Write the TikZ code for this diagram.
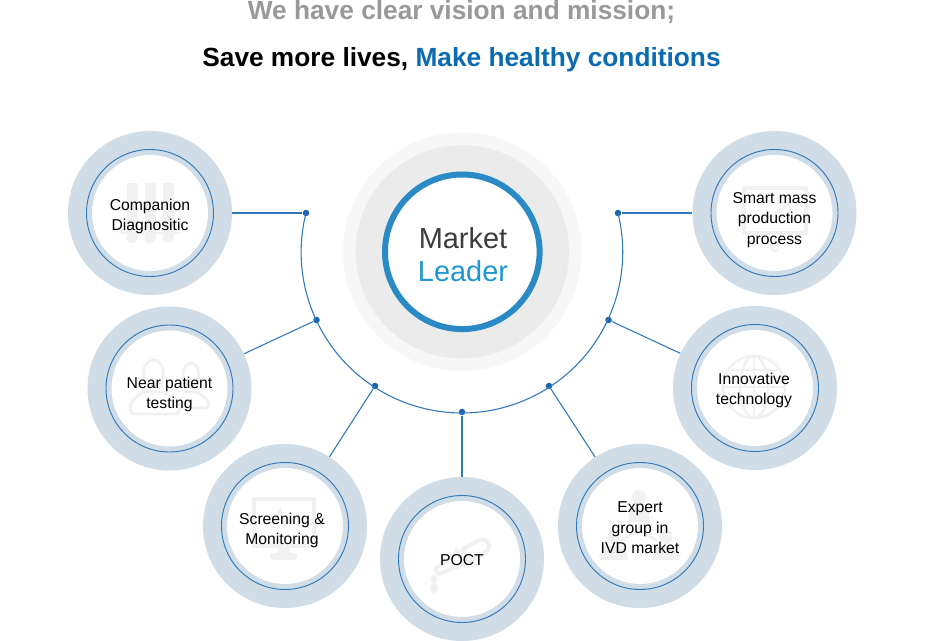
\documentclass[tikz,border=0pt]{standalone}
\usepackage{fontspec}
\setmainfont{Liberation Sans}
\definecolor{ringc}{HTML}{D0DCE6}
\definecolor{linec}{HTML}{2F78BC}
\definecolor{dotc}{HTML}{1A64AC}
\definecolor{ghost}{HTML}{F1F1F1}
\definecolor{titleg}{HTML}{999999}
\definecolor{titleb}{HTML}{0A6BB0}
\definecolor{leaderb}{HTML}{1F96D6}
\definecolor{centerring}{HTML}{2A8AC6}
\definecolor{marketc}{HTML}{3C3C3C}
\definecolor{halo}{HTML}{F7F7F7}
\definecolor{halomid}{HTML}{EBEBEB}
\tikzset{
  ringbox/.style={circle,minimum size=164*0.75pt,inner sep=0pt,fill=ringc},
  inring/.style={circle,minimum size=127*0.75pt,inner sep=0pt,draw=linec,line width=0.7pt},
  inwhite/.style={circle,minimum size=116*0.75pt,inner sep=0pt,fill=white},
  lab/.style={align=center,font=\fontsize{11.8pt}{15.3pt}\selectfont,text=black},
  dotn/.style={circle,minimum size=6.5*0.75pt,inner sep=0pt,fill=dotc},
  conn/.style={draw=linec,line width=0.8pt},
  gl/.style={draw=ghost,line width=2.2pt,line join=round,line cap=round},
  ttl/.style={anchor=base,font=\fontsize{19.7pt}{22pt}\selectfont\bfseries},
}
\begin{document}
\begin{tikzpicture}[x=0.75pt,y=-0.75pt]
\useasboundingbox (0,0) rectangle (925,641);
\fill[white] (0,0) rectangle (925,641);
% titles
\node[ttl,text=titleg] (t1) at (461.5,20) {We have clear vision and mission;};
\node[ttl] (t2) at (461.5,67) {Save more lives, \textcolor{titleb}{Make healthy conditions}};
% centre
\fill[halo] (462.3,251.8) circle (119.3);
\fill[halomid] (462.3,251.8) circle (106.7);
\node[circle,minimum size=154.6*0.75pt,inner sep=0pt,outer sep=0pt,fill=white,draw=centerring,line width=4.5pt] (mid) at (462.3,251.8) {};
\node[align=center,font=\fontsize{21.7pt}{24.75pt}\selectfont] (midt) at (463,255) {\textcolor{marketc}{Market}\\\textcolor{leaderb}{Leader}};
% dots
\node[dotn] (d1) at (306,213) {};
\node[dotn] (d2) at (316.5,320) {};
\node[dotn] (d3) at (375,386) {};
\node[dotn] (d4) at (462,412) {};
\node[dotn] (d5) at (549,386) {};
\node[dotn] (d6) at (608.5,320) {};
\node[dotn] (d7) at (618,213) {};
% rings
\node[ringbox] (c1) at (150,213) {};
\node[ringbox] (c2) at (169.5,388.5) {};
\node[ringbox] (c3) at (285,526) {};
\node[ringbox] (c4) at (462,559) {};
\node[ringbox] (c5) at (640,526) {};
\node[ringbox] (c6) at (755,388) {};
\node[ringbox] (c7) at (774.5,213) {};
% arc and connectors
\draw[conn] (d1.center) arc[start angle=194.1,end angle=-14.1,radius=160.8];
\draw[conn] (d1) -- (c1);
\draw[conn] (d2) -- (c2);
\draw[conn] (d3) -- (c3);
\draw[conn] (d4) -- (c4);
\draw[conn] (d5) -- (c5);
\draw[conn] (d6) -- (c6);
\draw[conn] (d7) -- (c7);
% inner
\foreach \n/\x/\y in {a/150/213,b/169.5/388.5,c/285/526,d/462/559,e/640/526,f/755/388,g/774.5/213}{
  \node[inwhite] (w\n) at (\x,\y) {};
  \node[inring] (r\n) at (\x,\y) {};
}
% ghost icons
% tubes
\foreach \x in {132,150,168}{
  \fill[ghost] (\x-5.5,183) rectangle (\x+5.5,238);
  \fill[ghost] (\x,238) circle (5.5);
}
\draw[gl] (120,233) -- (180,233);
% people
\draw[gl] (153.5,373) ellipse (10 and 13);
\draw[gl] (191,375) ellipse (8 and 12);
\draw[gl,rounded corners=3pt] (130,414) -- (180,414) -- (179,402) -- (165,392) -- (142,392) -- (131,402) -- cycle;
\draw[gl,rounded corners=3pt] (184,392) -- (198,392) -- (209,401) -- (209,408) -- (182,408);
% monitor
\draw[ghost,line width=3pt,line join=round] (254,499) rectangle (314,546);
\fill[ghost] (278,546) rectangle (290,555);
\fill[ghost,rounded corners=2pt] (270,553) rectangle (297,560);
\draw[ghost,line width=2pt] (274,518) -- (280,510) -- (285,526) -- (290,518);
% dropper
\begin{scope}[shift={(463,557)},rotate=29]
  \draw[gl,line width=3pt] (-30,-3) -- (-2,-7) -- (-2,7) -- (-30,3) -- cycle;
  \draw[gl,line width=3pt] (-2,-10) -- (-2,10);
  \draw[gl,line width=3pt] (3,-7) -- (20,-7) .. controls (32,-7) and (32,7) .. (20,7) -- (3,7) -- cycle;
\end{scope}
\fill[ghost] (434,573) -- (437.5,580) -- (430.5,580) -- cycle;
\fill[ghost] (434,579) circle (3.5);
\fill[ghost] (434,589) circle (4);
\fill[ghost] (434,581) -- (438,587) -- (430,587) -- cycle;
% experts
\fill[ghost] (639,497) circle (7);
\fill[ghost] (628,522) -- (630,507) -- (648,507) -- (650,522) -- cycle;
\fill[ghost] (614,537) circle (7);
\fill[ghost] (600,560) -- (603,546) -- (625,546) -- (628,560) -- cycle;
\fill[ghost] (666,537) circle (7);
\fill[ghost] (652,560) -- (655,546) -- (677,546) -- (680,560) -- cycle;
\draw[gl] (639,522) -- (639,530) -- (622,540);
\draw[gl] (639,530) -- (656,540);
% production
\draw[ghost,line width=3pt,line join=round] (744,188) rectangle (806,233);
\draw[gl] (765,221) -- (790,203) -- (778,203);
\draw[gl] (790,203) -- (790,213);
\draw[gl] (775,233) -- (775,243);
\draw[ghost,line width=2pt] (775,247) circle (4);
% globe
\draw[ghost,line width=2pt] (754,387) circle (31);
\draw[ghost,line width=2pt] (754,387) ellipse (14 and 31);
\draw[ghost,line width=2pt] (754,356) -- (754,418);
\draw[ghost,line width=2pt] (723,387) -- (785,387);
\draw[ghost,line width=2pt] (729,370) -- (779,370);
\draw[ghost,line width=2pt] (729,404) -- (779,404);
% labels
\node[lab] (l1) at (150,216.5) {Companion\\Diagnositic};
\node[lab] (l2) at (169.5,394.5) {Near patient\\testing};
\node[lab] (l3) at (282,530.5) {Screening \&\\Monitoring};
\node[lab] (l4) at (462,560.5) {POCT};
\node[lab] (l5) at (640,528) {Expert\\group in\\IVD market};
\node[lab] (l6) at (754,390.5) {Innovative\\technology};
\node[lab] (l7) at (774.5,220) {Smart mass\\production\\process};
\end{tikzpicture}
\end{document}
